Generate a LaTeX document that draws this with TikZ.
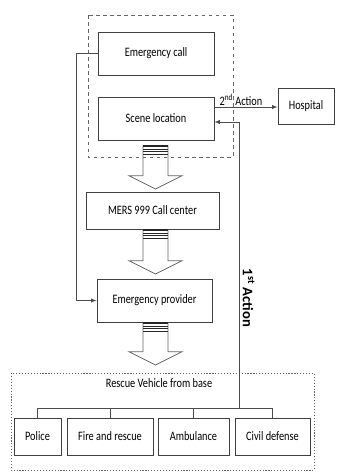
\documentclass[tikz,border=0pt]{standalone}
\usepackage{fontspec}
\setmainfont{Carlito}[FakeStretch=0.8]
\newfontfamily\upright{Carlito}
\usetikzlibrary{calc, positioning}

% hollow block arrow from #1 (top) down to #2 (tip)
\newcommand{\hollowarrow}[2]{%
  \draw[black!60, fill=white, line width=0.6pt] ($(#1)+(-0.375,0)$) -- ($(#2)+(-0.375,0.4)$) -- ($(#2)+(-0.8,0.4)$) -- (#2)
        -- ($(#2)+(0.8,0.4)$) -- ($(#2)+(0.375,0.4)$) -- ($(#1)+(0.375,0)$);
  \foreach \k/\w in {0.03/1.6pt, 0.12/0.8pt, 0.19/0.8pt, 0.27/0.5pt}
    \draw[line width=\w, black!85] ($(#1)+(-0.375,-\k)$) -- ($(#1)+(0.375,-\k)$);
}

\begin{document}
\begin{tikzpicture}[font=\fontsize{11}{13}\selectfont,
    box/.style={draw=black!75, line width=0.7pt, minimum height=1.29cm, inner sep=1pt},
    link/.style={black!70, line width=0.6pt, >=latex}]
    \useasboundingbox (0,0) rectangle (10.14,-14.16);

    \node[box, minimum width=3.48cm] (EC) at (4.68,-1.605) {Emergency call};
    \node[box, minimum width=3.48cm] (SL) at (4.68,-3.555) {Scene location};
    \node[box, minimum width=1.68cm, minimum height=1.08cm] (H) at (9.18,-3.18) {Hospital};
    \node[box, minimum width=3.99cm, minimum height=1.11cm] (MC) at (4.575,-6.315) {MERS 999 Call center};
    \node[box, minimum width=3.45cm] (EP) at (4.635,-9.015) {Emergency provider};

    % big arrows
    \coordinate (T1) at ($(SL.south)+(-0.015,-0.15)$);
    \coordinate (P1) at (4.665,-5.67);
    \coordinate (T2) at ($(MC.south)+(0.09,0)$);
    \coordinate (P2) at (4.665,-8.22);
    \coordinate (T3) at ($(EP.south)+(0.03,0)$);
    \coordinate (P3) at (4.665,-10.95);
    \hollowarrow{T1}{P1}
    \hollowarrow{T2}{P2}
    \hollowarrow{T3}{P3}

    \draw[dashed, black!60, line width=0.6pt] (2.64,-0.45) rectangle (6.99,-4.71);

    \draw[link, ->] (EC.west) -- ++(-0.63,0) |- (EP.west);
    \draw[link, ->] ($(SL.east)+(0,0.345)$) coordinate (A2) -- (A2 -| H.west)
        node[pos=0.42, above, black, inner sep=1pt] (L2) {2\textsuperscript{nd} Action};

    % rescue vehicles
    \draw[black!60, line width=0.6pt, dash pattern=on 1pt off 1.5pt] (0.33,-11.19) rectangle (9.42,-14.1);
    \node (RV) at (4.77,-11.49) {Rescue Vehicle from base};
    \node[box, minimum width=1.41cm, minimum height=1.11cm] (Po) at (1.125,-13.095) {Police};
    \node[box, minimum width=2.58cm, minimum height=1.11cm] (Fr) at (3.3,-13.095) {Fire and rescue};
    \node[box, minimum width=2.13cm, minimum height=1.11cm] (Am) at (5.805,-13.095) {Ambulance};
    \node[box, minimum width=2.25cm, minimum height=1.11cm] (Cd) at (8.175,-13.095) {Civil defense};

    \coordinate (bus) at (0,-12.24);
    \coordinate (J) at (7.17,-12.24);
    \draw[link] (Po.north) -- (Po.north |- bus) -- (Cd.north |- bus) -- (Cd.north);
    \draw[link] (Fr.north) -- (Fr.north |- bus);
    \draw[link] (Am.north) -- (Am.north |- bus);
    \draw[link, ->] (J) |- ($(SL.east)+(0,-0.105)$);
    \node[rotate=-90, font=\upright\bfseries\fontsize{12.5}{14}\selectfont] (L1) at (7.46,-8.94) {1\textsuperscript{st} Action};
\end{tikzpicture}
\end{document}
